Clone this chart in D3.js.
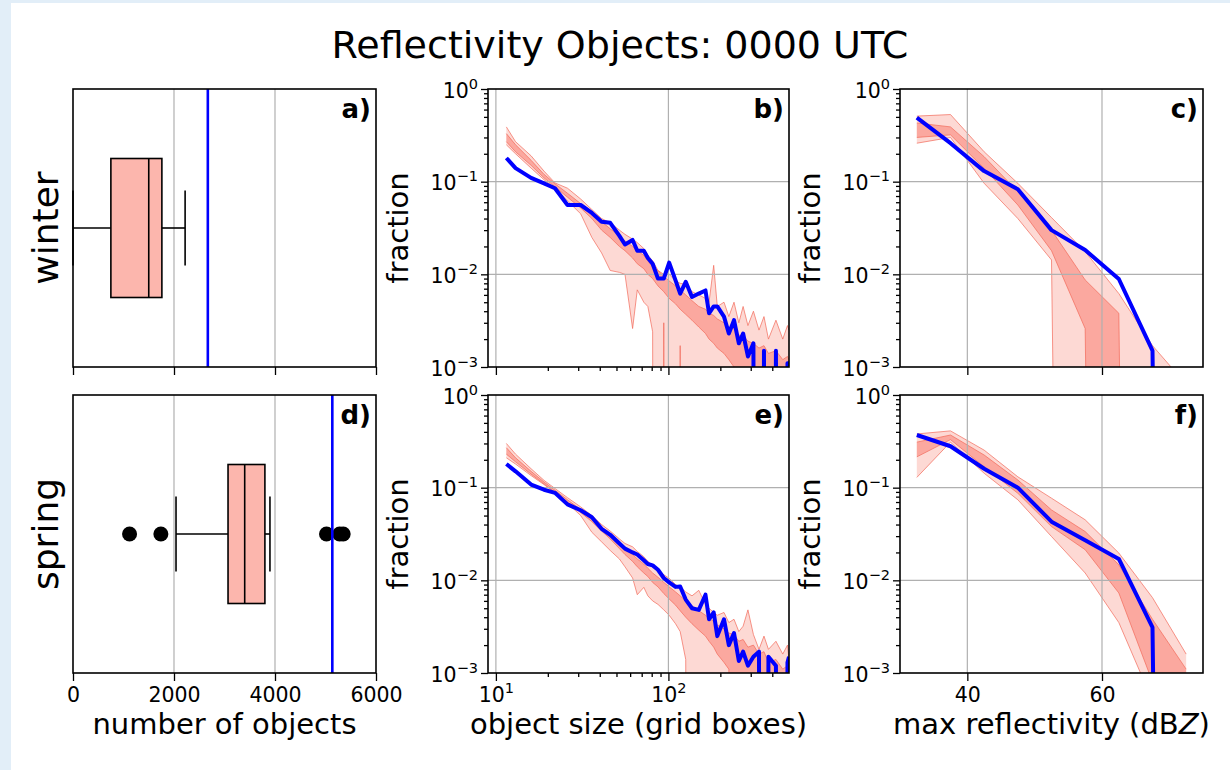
<!DOCTYPE html>
<html>
<head>
<meta charset="utf-8">
<script src="https://cdn.jsdelivr.net/npm/d3@7"></script>
<style>
  body { margin: 0; background: #e2eef8; }
  svg { display: block; }
</style>
</head>
<body>
<div id="chart"></div>
<script>
// --- Data ---
const titleText = "Reflectivity Objects: 0000 UTC";
const seasons = ["winter", "spring"];
const panelLetters = [["a)", "b)", "c)"], ["d)", "e)", "f)"]];
const xLabels = ["number of objects", "object size (grid boxes)", "max reflectivity (dBZ)"];

// box plots: number of objects per day (ensemble)
const countTicks = [0, 2000, 4000, 6000];
const boxLow  = [0, 2040];
const boxQ1   = [750, 3070];
const boxMed  = [1500, 3400];
const boxQ3   = [1760, 3800];
const boxHigh = [2220, 3900];
const boxOutliers = [[], [1120, 1740, 5020, 5280, 5350]];
const obsCount = [2670, 5135];

// object size distributions
const sizeBins = [11.5, 13, 16, 19, 22, 26, 31, 36, 41, 46, 52, 56, 62, 66, 72, 76, 81, 87, 94, 101, 110, 117,
  126, 137, 150, 164, 172, 183, 192, 210, 224, 240, 256, 271, 289, 311, 335, 358, 380, 420, 460, 490, 500];
const winterSizeObs = [0.18, 0.14, 0.11, 0.096, 0.085, 0.056, 0.056, 0.046, 0.037, 0.036, 0.026, 0.021, 0.0235,
  0.018, 0.018, 0.015, 0.013, 0.009, 0.009, 0.0134, 0.0086, 0.0062, 0.0083, 0.0057, 0.0062, 0.0067, 0.0038, 0.0045,
  0.0045, 0.0035, 0.0023, 0.0032, 0.0018, 0.0023, 0.0013, 0.0018, 0, 0.0015, 0, 0.0015, 0, 0.0011, 0.0011];
const winterSizeMax = [0.39, 0.27, 0.19, 0.13, 0.097, 0.085, 0.065, 0.05, 0.04, 0.036, 0.03, 0.027, 0.024, 0.022,
  0.019, 0.016, 0.014, 0.011, 0.01, 0.01, 0.0085, 0.008, 0.0078, 0.0065, 0.006, 0.0055, 0.005, 0.0125, 0.0045,
  0.005, 0.0035, 0.005, 0.003, 0.0045, 0.0028, 0.004, 0.0025, 0.0035, 0.002, 0.0032, 0.002, 0.0028, 0.0025];
const winterSizeQ75 = [0.33, 0.25, 0.17, 0.12, 0.095, 0.075, 0.058, 0.047, 0.037, 0.031, 0.026, 0.023, 0.02, 0.018,
  0.016, 0.014, 0.012, 0.011, 0.0095, 0.0085, 0.0075, 0.0068, 0.006, 0.0052, 0.0045, 0.0042, 0.0038, 0.0036, 0.0033,
  0.003, 0.0027, 0.0026, 0.0022, 0.0022, 0.0019, 0.0018, 0.0016, 0.0017, 0.0014, 0.0015, 0.0012, 0.0013, 0.0012];
const winterSizeQ25 = [0.27, 0.21, 0.15, 0.11, 0.088, 0.068, 0.052, 0.04, 0.03, 0.025, 0.02, 0.018, 0.015, 0.013,
  0.0115, 0.01, 0.009, 0.0075, 0.0065, 0.0055, 0.0048, 0.0042, 0.0037, 0.0032, 0.0027, 0.0023, 0.002, 0.0018, 0.0016,
  0.0014, 0.0012, 0.001, 0.0009, 0, 0, 0, 0, 0, 0, 0, 0, 0, 0];
const winterSizeMin = [0.25, 0.2, 0.14, 0.105, 0.085, 0.062, 0.045, 0.025, 0.017, 0.011, 0.0105, 0.01, 0.0026,
  0.0068, 0.005, 0.0045, 0.0024, 0, 0.003, 0, 0, 0.0017, 0, 0, 0, 0, 0, 0, 0, 0, 0, 0, 0, 0, 0, 0, 0, 0, 0, 0, 0, 0, 0];

const springSizeObs = [0.18, 0.15, 0.108, 0.095, 0.088, 0.066, 0.057, 0.048, 0.036, 0.031, 0.025, 0.022, 0.02,
  0.019, 0.0165, 0.015, 0.0145, 0.013, 0.0106, 0.0095, 0.0085, 0.0086, 0.0062, 0.005, 0.0048, 0.007, 0.0038, 0.0045,
  0.0025, 0.0038, 0.002, 0.0027, 0.00135, 0.0017, 0.0012, 0.0015, 0.0017, 0, 0.0015, 0.0012, 0, 0.0013, 0.0015];
const springSizeMax = [0.3, 0.23, 0.16, 0.12, 0.098, 0.078, 0.062, 0.05, 0.04, 0.034, 0.028, 0.025, 0.023, 0.0205,
  0.018, 0.016, 0.0145, 0.013, 0.0115, 0.0105, 0.009, 0.0085, 0.0075, 0.0068, 0.0078, 0.0055, 0.005, 0.0045, 0.0042,
  0.0045, 0.0035, 0.0038, 0.0028, 0.0032, 0.0048, 0.0026, 0.0018, 0.0025, 0.0018, 0.0022, 0.0016, 0.002, 0.0014];
const springSizeQ75 = [0.27, 0.21, 0.15, 0.115, 0.094, 0.074, 0.058, 0.047, 0.037, 0.031, 0.025, 0.022, 0.019,
  0.017, 0.015, 0.0135, 0.012, 0.0108, 0.0095, 0.0085, 0.0075, 0.0068, 0.006, 0.0053, 0.0047, 0.0042, 0.0039, 0.0036,
  0.0033, 0.003, 0.0027, 0.0026, 0.0022, 0.0023, 0.0019, 0.002, 0.0016, 0.0017, 0.0013, 0.0014, 0.0011, 0.0012, 0.0011];
const springSizeQ25 = [0.23, 0.19, 0.14, 0.11, 0.089, 0.07, 0.054, 0.043, 0.034, 0.028, 0.022, 0.019, 0.016, 0.014,
  0.012, 0.011, 0.0095, 0.0085, 0.0072, 0.0063, 0.0054, 0.0047, 0.004, 0.0034, 0.0029, 0.0025, 0.0022, 0.0019, 0.0016,
  0.0013, 0.0011, 0, 0, 0, 0, 0, 0, 0, 0, 0, 0, 0, 0];
const springSizeMin = [0.21, 0.18, 0.135, 0.108, 0.088, 0.068, 0.05, 0.033, 0.026, 0.021, 0.017, 0.014, 0.0106,
  0.007, 0.0084, 0.0068, 0.006, 0.0055, 0.0048, 0.0042, 0.0034, 0.0028, 0.0014, 0, 0, 0, 0, 0, 0, 0, 0, 0, 0, 0, 0,
  0, 0, 0, 0, 0, 0, 0, 0];

// max reflectivity distributions
const dbzBins = [32.5, 37.5, 42.5, 47.5, 52.5, 57.5, 62.5, 67.5, 72.5];
const dbzTicks = [40, 60];
const winterDbzObs = [0.49, 0.26, 0.13, 0.083, 0.03, 0.0183, 0.0089, 0.0015, 0];
const winterDbzMax = [0.51, 0.53, 0.21, 0.096, 0.041, 0.0176, 0.0062, 0.0017, 0.00065];
const winterDbzQ75 = [0.43, 0.39, 0.186, 0.078, 0.03, 0.0087, 0.0038, 0, 0];
const winterDbzQ25 = [0.3, 0.32, 0.139, 0.056, 0.018, 0.0026, 0, 0, 0];
const winterDbzMin = [0.26, 0.3, 0.096, 0.04, 0.0143, 0, 0, 0, 0];
const springDbzObs = [0.37, 0.28, 0.16, 0.1, 0.043, 0.027, 0.017, 0.0031, 0];
const springDbzMax = [0.38, 0.41, 0.254, 0.131, 0.077, 0.045, 0.0197, 0.0065, 0.0016];
const springDbzQ75 = [0.31, 0.37, 0.225, 0.121, 0.0575, 0.0336, 0.0147, 0.0038, 0.0011];
const springDbzQ25 = [0.215, 0.33, 0.168, 0.087, 0.038, 0.0214, 0.0073, 0.0008, 0];
const springDbzMin = [0.129, 0.31, 0.143, 0.074, 0.0297, 0.012, 0.0035, 0.0005, 0];

const fracTicks = [1e-3, 1e-2, 1e-1, 1];
const sizeTicks = [10, 100];

const sizeSeries = [
  { obs: winterSizeObs, min: winterSizeMin, q25: winterSizeQ25, q75: winterSizeQ75, max: winterSizeMax },
  { obs: springSizeObs, min: springSizeMin, q25: springSizeQ25, q75: springSizeQ75, max: springSizeMax }
];
const dbzSeries = [
  { obs: winterDbzObs, min: winterDbzMin, q25: winterDbzQ25, q75: winterDbzQ75, max: winterDbzMax },
  { obs: springDbzObs, min: springDbzMin, q25: springDbzQ25, q75: springDbzQ75, max: springDbzMax }
];

// --- Layout ---
const W = 1230, H = 770;
const FONT = "'DejaVu Sans', sans-serif";
const cols = [[73, 376], [488, 789], [900, 1203]];
const rows = [[89, 367], [395, 673]];
const TICK_FS = 20.5, LABEL_FS = 29;
const BLUE = "#0000ff";
const SALMON = "250,128,114";

const svg = d3.select("#chart").append("svg")
  .attr("width", W).attr("height", H)
  .style("font-family", FONT);

// background: light blue border, white figure
svg.append("rect").attr("width", W).attr("height", H).attr("fill", "#e2eef8");
svg.append("rect").attr("x", 11).attr("y", 3).attr("width", W - 11).attr("height", H - 3).attr("fill", "#fff");
const defs = svg.append("defs");

// --- Helpers ---
function styleAxis(g) {
  g.select(".domain").remove();
  g.selectAll(".tick line").attr("stroke", "#000").attr("stroke-width", 1.3);
  g.selectAll(".tick text").attr("font-size", TICK_FS).attr("font-family", FONT).attr("fill", "#000");
  return g;
}

function powLabels(g) {
  g.selectAll(".tick text").each(function(d) {
    const e = Math.round(Math.log10(d));
    const t = d3.select(this).text(null);
    t.append("tspan").text("10");
    t.append("tspan").attr("font-size", 14.5).attr("dy", -9).text(e < 0 ? "\u2212" + (-e) : String(e));
  });
}

function minorOf(majors) {
  const out = [];
  majors.slice(0, -1).forEach(m => { for (let k = 2; k <= 9; k++) out.push(m * k); });
  return out;
}

function clipFor(id, x0, x1, y0, y1) {
  defs.append("clipPath").attr("id", id)
    .append("rect").attr("x", x0).attr("y", y0).attr("width", x1 - x0).attr("height", y1 - y0);
  return `url(#${id})`;
}

function frame(g, x0, x1, y0, y1) {
  g.append("rect")
    .attr("x", x0).attr("y", y0).attr("width", x1 - x0).attr("height", y1 - y0)
    .attr("fill", "none").attr("stroke", "#000").attr("stroke-width", 1.6);
}

function letter(g, x1, y0, txt) {
  g.append("text")
    .attr("x", x1 - 5).attr("y", y0 + 29)
    .attr("text-anchor", "end")
    .attr("font-size", 26).attr("font-weight", "bold")
    .text(txt);
}

const pos = v => (v > 0 ? v : 1e-30); // zero bins fall off the log axis

// --- Box plot panels (a, d) ---
function drawBox(i) {
  const [x0, x1] = cols[0], [y0, y1] = rows[i];
  const g = svg.append("g");
  const x = d3.scaleLinear().domain([countTicks[0], countTicks[countTicks.length - 1]]).range([x0, x1]);
  const y = d3.scaleLinear().domain([0.5, 1.5]).range([y1, y0]);
  const yc = y(1), half = y(1) - y(1.25), cap = y(1) - y(1.135);

  g.selectAll(".grid").data(countTicks.slice(1, -1)).enter().append("line")
    .attr("x1", d => x(d)).attr("x2", d => x(d)).attr("y1", y0).attr("y2", y1)
    .attr("stroke", "#b0b0b0").attr("stroke-width", 1.2);

  const stroke = s => s.attr("stroke", "#000").attr("stroke-width", 1.6);
  stroke(g.append("line").attr("x1", x(boxLow[i])).attr("x2", x(boxQ1[i])).attr("y1", yc).attr("y2", yc));
  stroke(g.append("line").attr("x1", x(boxQ3[i])).attr("x2", x(boxHigh[i])).attr("y1", yc).attr("y2", yc));
  [boxLow[i], boxHigh[i]].forEach(v => {
    stroke(g.append("line").attr("x1", x(v)).attr("x2", x(v)).attr("y1", yc - cap).attr("y2", yc + cap));
  });
  stroke(g.append("rect")
    .attr("x", x(boxQ1[i])).attr("width", x(boxQ3[i]) - x(boxQ1[i]))
    .attr("y", yc - half).attr("height", 2 * half)
    .attr("fill", "#fcb6ad"));
  stroke(g.append("line").attr("x1", x(boxMed[i])).attr("x2", x(boxMed[i])).attr("y1", yc - half).attr("y2", yc + half));

  g.selectAll(".out").data(boxOutliers[i]).enter().append("circle")
    .attr("cx", d => x(d)).attr("cy", yc).attr("r", 7.5).attr("fill", "#000");

  g.append("line")
    .attr("x1", x(obsCount[i])).attr("x2", x(obsCount[i])).attr("y1", y0).attr("y2", y1)
    .attr("stroke", BLUE).attr("stroke-width", 2.6);

  const ax = g.append("g").attr("transform", `translate(0,${y1})`)
    .call(d3.axisBottom(x).tickValues(countTicks).tickSize(8).tickPadding(6)
      .tickFormat(i === 1 ? d3.format("d") : () => ""));
  styleAxis(ax);

  frame(g, x0, x1, y0, y1);
  letter(g, x1, y0, panelLetters[i][0]);

  svg.append("text")
    .attr("transform", `translate(58,${(y0 + y1) / 2}) rotate(-90)`)
    .attr("text-anchor", "middle").attr("font-size", 36)
    .text(seasons[i]);
}

// --- Distribution panels (b, c, e, f) ---
function drawDist(i, c, x, bins, s, xMajor, xMinor, logX) {
  const [x0, x1] = cols[c], [y0, y1] = rows[i];
  const g = svg.append("g");
  const y = d3.scaleLog().domain([fracTicks[0], fracTicks[fracTicks.length - 1]]).range([y1, y0]);
  const data = d3.range(bins.length);
  const inner = g.append("g").attr("clip-path", clipFor(`clip-${i}-${c}`, x0, x1, y0, y1));

  const band = (lo, hi) => d3.area()
    .x(k => x(bins[k])).y0(k => y(pos(lo[k]))).y1(k => y(pos(hi[k])))(data);
  const edge = arr => d3.line().x(k => x(bins[k])).y(k => y(pos(arr[k])))(data);

  inner.append("path").attr("d", band(s.min, s.max)).attr("fill", `rgba(${SALMON},0.3)`);
  inner.append("path").attr("d", band(s.q25, s.q75)).attr("fill", `rgba(${SALMON},0.55)`);
  [s.min, s.max, s.q25, s.q75].forEach(arr => {
    inner.append("path").attr("d", edge(arr))
      .attr("fill", "none").attr("stroke", "#f26a5a").attr("stroke-opacity", 0.7).attr("stroke-width", 1);
  });

  // grid
  const gridX = xMajor.filter(v => x(v) > x0 + 1 && x(v) < x1 - 1);
  inner.selectAll(".gx").data(gridX).enter().append("line")
    .attr("x1", d => x(d)).attr("x2", d => x(d)).attr("y1", y0).attr("y2", y1)
    .attr("stroke", "#b0b0b0").attr("stroke-width", 1.2);
  inner.selectAll(".gy").data(fracTicks.slice(1, -1)).enter().append("line")
    .attr("x1", x0).attr("x2", x1).attr("y1", d => y(d)).attr("y2", d => y(d))
    .attr("stroke", "#b0b0b0").attr("stroke-width", 1.2);

  inner.append("path").attr("d", edge(s.obs))
    .attr("fill", "none").attr("stroke", BLUE).attr("stroke-width", 4).attr("stroke-linejoin", "round");

  // y axis
  const ay = g.append("g").attr("transform", `translate(${x0},0)`)
    .call(d3.axisLeft(y).tickValues(fracTicks).tickSize(7).tickPadding(3));
  styleAxis(ay);
  ay.selectAll(".tick text").attr("dy", "0.4em");
  powLabels(ay);
  styleAxis(g.append("g").attr("transform", `translate(${x0},0)`)
    .call(d3.axisLeft(y).tickValues(minorOf(fracTicks)).tickSize(4).tickFormat(() => "")));

  // x axis
  const ax = g.append("g").attr("transform", `translate(0,${y1})`)
    .call(d3.axisBottom(x).tickValues(xMajor).tickSize(8).tickPadding(6)
      .tickFormat(i === 1 ? (logX ? () => "" : d3.format("d")) : () => ""));
  styleAxis(ax);
  if (i === 1 && logX) powLabels(ax);
  if (xMinor.length) {
    styleAxis(g.append("g").attr("transform", `translate(0,${y1})`)
      .call(d3.axisBottom(x).tickValues(xMinor).tickSize(4).tickFormat(() => "")));
  }

  frame(g, x0, x1, y0, y1);
  letter(g, x1, y0, panelLetters[i][c]);

  svg.append("text")
    .attr("transform", `translate(${x0 - 80},${(y0 + y1) / 2}) rotate(-90)`)
    .attr("text-anchor", "middle").attr("font-size", LABEL_FS)
    .text("fraction");
}

seasons.forEach((season, i) => {
  drawBox(i);
  const xs = d3.scaleLog().domain([9, 500]).range(cols[1]);
  drawDist(i, 1, xs, sizeBins, sizeSeries[i], sizeTicks, minorOf([10, 100, 1000]).filter(v => v < 500), true);
  const xd = d3.scaleLinear().domain([30, 75]).range(cols[2]);
  drawDist(i, 2, xd, dbzBins, dbzSeries[i], dbzTicks, [], false);
});

// --- Titles and axis labels ---
svg.append("text")
  .attr("x", 620).attr("y", 58)
  .attr("text-anchor", "middle").attr("font-size", 38)
  .text(titleText);

xLabels.forEach((lab, c) => {
  const t = svg.append("text")
    .attr("x", (cols[c][0] + cols[c][1]) / 2).attr("y", 734)
    .attr("text-anchor", "middle").attr("font-size", LABEL_FS);
  if (lab.endsWith("(dBZ)")) {
    t.append("tspan").text(lab.slice(0, -2));
    t.append("tspan").attr("font-style", "italic").text("Z");
    t.append("tspan").text(")");
  } else {
    t.text(lab);
  }
});
</script>
</body>
</html>
